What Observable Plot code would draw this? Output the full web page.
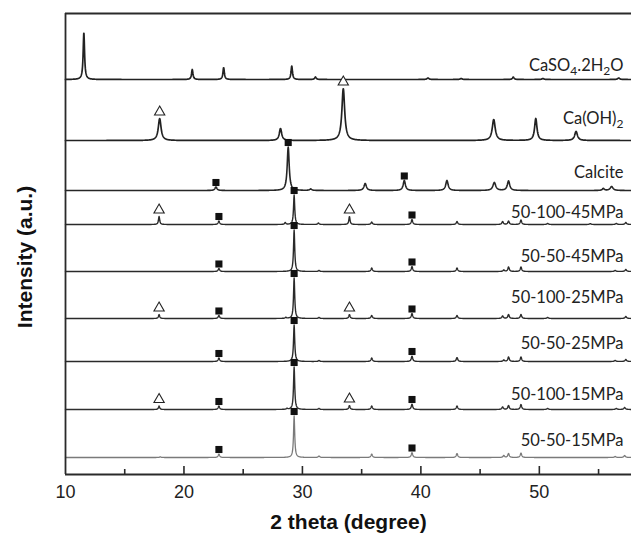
<!DOCTYPE html>
<html>
<head>
<meta charset="utf-8">
<script src="https://cdn.jsdelivr.net/npm/d3@7"></script>
<script src="https://cdn.jsdelivr.net/npm/@observablehq/plot@0.6"></script>
<style>
  html, body { margin: 0; padding: 0; background: #fff; }
  #chart svg { display: block; }
</style>
</head>
<body>
<div id="chart"></div>
<script>
// ---- Data (2θ in degrees, intensity in arbitrary units) ----
const traceNames = ["CaSO4.2H2O", "Ca(OH)2", "Calcite", "50-100-45MPa", "50-50-45MPa",
                    "50-100-25MPa", "50-50-25MPa", "50-100-15MPa", "50-50-15MPa"];
// vertical stacking offset (a.u.) of each trace's baseline
const traceOffsets = [395, 334, 284, 250, 203, 156, 113, 65, 17];

// peak tables: [2θ position, peak height (a.u.), half width at half maximum (deg)]
const peaksCaSO4 = [[11.55,47,0.07],[20.7,10,0.07],[23.35,12,0.07],[29.1,13.5,0.07],[31.1,2.5,0.08],
  [40.6,1.5,0.1],[43.4,1,0.1],[47.8,2.5,0.08],[50.3,1,0.1],[56.7,1.5,0.1]];
const peaksCaOH2 = [[17.95,22,0.14],[28.15,12,0.12],[33.45,52,0.14],[46.15,21,0.15],[49.7,22,0.12],[53.1,9,0.14]];
const peaksCalcite = [[22.7,3.5,0.1],[28.8,43.5,0.1],[30.7,1.5,0.1],[35.3,7,0.12],[38.6,10,0.11],[42.2,10,0.12],
  [46.2,8,0.14],[47.4,9.5,0.12],[55.4,2,0.1],[56.1,4,0.14]];
const peaks100_45 = [[17.9,8,0.06],[22.95,3.5,0.07],[28.55,2,0.06],[29.3,29.5,0.06],[31.35,1.5,0.07],[33.97,8,0.06],
  [35.85,2.5,0.07],[39.25,5,0.07],[43.05,3,0.07],[46.9,3,0.07],[47.4,3.5,0.07],[48.45,4.5,0.07],[50.7,1,0.08],
  [54.3,0.8,0.08],[56.5,1,0.08],[57.3,2,0.08]];
const peaks50_45 = [[22.95,3,0.07],[29.3,41.5,0.06],[31.4,1,0.07],[35.85,3.5,0.07],[39.25,5,0.07],[43.05,3.5,0.07],
  [47.0,1.5,0.07],[47.4,4.5,0.07],[48.45,4.5,0.07],[56.4,1,0.08],[57.3,2,0.08]];
const peaks100_25 = [[17.9,4,0.06],[22.95,3,0.07],[28.6,1,0.06],[29.3,40.5,0.06],[31.4,1,0.07],[33.97,4,0.06],
  [35.85,3,0.07],[39.25,5,0.07],[43.05,3,0.07],[46.9,2.5,0.07],[47.4,4,0.07],[48.45,4,0.07],[50.7,1,0.08],[57.3,2,0.08]];
const peaks50_25 = [[22.95,3.5,0.07],[29.3,36.5,0.06],[31.4,1,0.07],[35.85,3.5,0.07],[39.25,5.5,0.07],[43.05,4,0.07],
  [47.0,1.5,0.07],[47.4,4.5,0.07],[48.45,4.5,0.07],[56.4,1,0.08],[57.3,2,0.08]];
const peaks100_15 = [[17.9,3.5,0.06],[22.95,3.5,0.07],[28.7,1,0.06],[29.3,42.5,0.06],[31.4,1,0.07],[33.97,4,0.06],
  [35.85,3.5,0.07],[39.25,5.5,0.07],[43.05,3.5,0.07],[46.9,2.5,0.07],[47.4,4,0.07],[48.45,5,0.07],[50.7,1,0.08],
  [56.5,1,0.08],[57.2,2,0.08]];
const peaks50_15 = [[18.0,0.7,0.06],[22.95,3.5,0.07],[29.3,41.5,0.06],[31.4,1.5,0.07],[35.85,3.5,0.07],[39.25,5,0.07],
  [43.05,4,0.07],[47.0,2,0.07],[47.4,4,0.07],[48.45,4.5,0.07],[56.4,1,0.08],[57.2,2,0.08]];
const peakTables = [peaksCaSO4, peaksCaOH2, peaksCalcite, peaks100_45, peaks50_45, peaks100_25, peaks50_25, peaks100_15, peaks50_15];

// phase markers: [trace index, 2θ position]
const calciteMarks = [[2,22.7],[2,28.8],[2,38.6],
  [3,22.95],[3,29.3],[3,39.25],[4,22.95],[4,29.3],[4,39.25],[5,22.95],[5,29.3],[5,39.25],
  [6,22.95],[6,29.3],[6,39.25],[7,22.95],[7,29.3],[7,39.25],[8,22.95],[8,29.3],[8,39.25]];
const portlanditeMarks = [[1,17.95],[1,33.45],[3,17.9],[3,33.97],[5,17.9],[5,33.97],[7,17.9],[7,33.97]];

const xTickLabels = [10, 20, 30, 40, 50];
const xMinorTicks = [15, 25, 35, 45, 55];
const xDomain = [10, 57.78];
const yDomain = [0, 461];

// ---- Presentation ----
const labelLift = [14, 22, 18, 12, 15, 21, 18, 15, 17];
const traceColors = ["#222","#222","#262626","#2a2a2a","#2a2a2a","#2a2a2a","#2a2a2a","#2e2e2e","#7a7a7a"];
const traceWidths = [1.7, 1.7, 1.6, 1.4, 1.4, 1.4, 1.4, 1.4, 1.3];
const ink = "#2a2a2a";

// draw each trace profile from its peak table (Lorentzian peak shape)
const grid = d3.range(xDomain[0], xDomain[1] + 0.001, 0.02);
function profile(i) {
  const pk = peakTables[i], base = traceOffsets[i];
  return grid.map(x => ({
    x,
    y: base + d3.sum(pk, ([p, h, w]) => h / (1 + ((x - p) / w) ** 2))
  }));
}
function markerY(i, pos, gap) {
  const pk = peakTables[i].find(([p]) => Math.abs(p - pos) < 0.3);
  return traceOffsets[i] + (pk ? pk[1] : 0) + gap;
}

const lineMarks = traceNames.map((n, i) =>
  Plot.line(profile(i), {x: "x", y: "y", stroke: traceColors[i], strokeWidth: traceWidths[i], strokeLinejoin: "round"}));

const chart = Plot.plot({
  width: 631,
  height: 536,
  marginTop: 13,
  marginRight: 0,
  marginBottom: 62,
  marginLeft: 65,
  x: {domain: xDomain},
  y: {domain: yDomain, axis: null},
  style: {fontFamily: "'Liberation Sans', Arial, sans-serif", fontSize: "18px", color: "#222", background: "#fff", overflow: "visible"},
  marks: [
    ...lineMarks,
    Plot.dot(calciteMarks, {x: d => d[1], y: d => markerY(d[0], d[1], 4.5), symbol: "square", r: 4, fill: "#111", stroke: "none"}),
    Plot.dot(portlanditeMarks, {x: d => d[1], y: d => markerY(d[0], d[1], 6.5), symbol: "triangle", r: 3.8, fill: "#fff", stroke: "#222", strokeWidth: 1.1}),
    Plot.text(traceNames, {
      y: (d, i) => traceOffsets[i] + labelLift[i], text: d => d,
      frameAnchor: "right", textAnchor: "end", lineAnchor: "middle", dx: -8,
      fontFamily: "Lato, 'Open Sans', sans-serif", fontSize: 16.5, fill: "#222"
    }),
    Plot.ruleY([yDomain[0], yDomain[1]], {stroke: ink, strokeWidth: 1.8}),
    Plot.ruleX([xDomain[0]], {stroke: ink, strokeWidth: 1.8}),
    Plot.ruleX(xTickLabels.filter(d => d > xDomain[0]), {x: d => d, y1: 0, y2: 8, stroke: ink, strokeWidth: 1.6}),
    Plot.ruleX(xMinorTicks, {x: d => d, y1: 0, y2: 5, stroke: ink, strokeWidth: 1.6}),
    Plot.axisX({ticks: xTickLabels, tickSize: 0, tickPadding: 11, label: null, tickFormat: d => String(d)}),
    Plot.text(["2 theta (degree)"], {frameAnchor: "bottom", dy: 48, lineAnchor: "middle",
      fontWeight: "bold", fontSize: 21, fill: "#111"}),
    Plot.text(["Intensity (a.u.)"], {frameAnchor: "left", rotate: -90, dx: -40, dy: 13, lineAnchor: "middle",
      textAnchor: "middle", fontWeight: "bold", fontSize: 21, fill: "#111"})
  ]
});

// chemical formula subscripts (digit right after a letter or ")")
chart.querySelectorAll("text").forEach(t => {
  const s = t.textContent;
  if (t.children.length || !/[A-Za-z)]\d/.test(s) || /MPa/.test(s)) return;
  const parts = s.split(/(?<=[A-Za-z)])(\d)/);
  t.textContent = "";
  let sub = false;
  parts.forEach((p, k) => {
    if (!p) return;
    const isSub = k % 2 === 1;
    const ts = document.createElementNS("http://www.w3.org/2000/svg", "tspan");
    ts.textContent = p;
    if (isSub) { ts.setAttribute("font-size", "12"); ts.setAttribute("dy", "4"); sub = true; }
    else if (sub) { ts.setAttribute("dy", "-4"); sub = false; }
    t.appendChild(ts);
  });
});

document.getElementById("chart").appendChild(chart);
</script>
</body>
</html>
